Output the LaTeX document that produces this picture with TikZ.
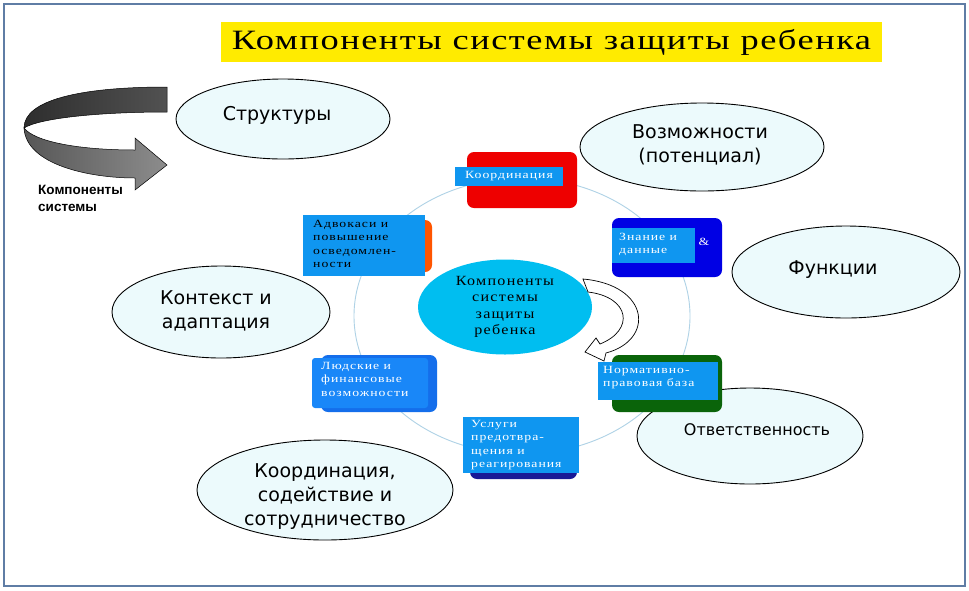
\documentclass[tikz,border=0pt]{standalone}
\usepackage{fontspec}
\usetikzlibrary{shapes.geometric}
\newfontfamily\sansf{DejaVu Sans}
\newfontfamily\lblf{Liberation Sans}
\newfontfamily\boxf[FakeStretch=1.25,LetterSpace=9]{Liberation Serif}
\newfontfamily\centf[FakeStretch=1.15,LetterSpace=9]{Liberation Serif}
\newfontfamily\titlef[FakeStretch=1.3,LetterSpace=5.5]{Liberation Serif}
\definecolor{framec}{RGB}{95,125,165}
\definecolor{ylw}{RGB}{255,235,0}
\definecolor{ring}{RGB}{175,210,230}
\definecolor{ellfill}{RGB}{236,250,252}
\definecolor{lblue}{RGB}{15,150,240}
\definecolor{cent}{RGB}{0,190,240}
\definecolor{redc}{RGB}{238,0,0}
\definecolor{dblue}{RGB}{0,0,228}
\definecolor{dgreen}{RGB}{10,100,10}
\definecolor{orng}{RGB}{255,85,0}
\definecolor{hback}{RGB}{20,110,235}
\definecolor{hfront}{RGB}{25,135,248}
\definecolor{navy}{RGB}{25,25,150}
\tikzset{
  outer/.style={ellipse, draw=black, line width=0.9pt, fill=ellfill, inner sep=0pt},
  otext/.style={inner sep=0pt, align=center, font=\sansf\fontsize{19}{24}\selectfont},
  backbox/.style={rounded corners=7pt, inner sep=0pt},
  lbl/.style={fill=lblue, inner sep=0pt, text=white},
  btext/.style={anchor=north west, inner sep=0pt, align=left, font=\boxf\fontsize{11}{13.5}\selectfont},
}
\begin{document}
\begin{tikzpicture}[x=1pt,y=-1pt]
\useasboundingbox (0,0) rectangle (969,590);
\fill[white] (0,0) rectangle (969,590);
\draw[framec, line width=1.6pt] (4,4) rectangle (965,586);

% title
\node[fill=ylw, minimum width=661pt, minimum height=40pt, inner sep=0pt,
      font=\titlef\fontsize{28}{30}\selectfont] (title) at (551.5,42) {Компоненты системы защиты ребенка};

% big ring
\draw[ring, line width=0.9pt] (522,316) ellipse [x radius=168pt, y radius=138pt];

% outer ellipses
\node[outer, minimum width=214pt, minimum height=80pt] (struct) at (283,119) {};
\node[otext] (structt) at (277,115) {Структуры};
\node[outer, minimum width=244pt, minimum height=88pt] (vozm) at (702,147) {};
\node[otext] (vozmt) at (700,145) {Возможности\\(потенциал)};
\node[outer, minimum width=228pt, minimum height=92pt] (func) at (846,272) {};
\node[otext] (funct) at (833,270) {Функции};
\node[outer, minimum width=226pt, minimum height=96pt] (otv) at (750,436) {};
\node[otext, font=\sansf\fontsize{16}{20}\selectfont] (otvt) at (757,430) {Ответственность};
\node[outer, minimum width=218pt, minimum height=92pt] (kont) at (221,312) {};
\node[otext] (kontt) at (216,311) {Контекст и\\адаптация};
\node[outer, minimum width=256pt, minimum height=100pt] (koord) at (325,490) {};
\node[otext] (koordt) at (325,497) {Координация,\\содействие и\\сотрудничество};

% left 3D arrow
\shade[left color=black!82, right color=black!68, draw=black, line width=0.5pt]
  (167,87) .. controls (80,87) and (24,100) .. (24,128)
  .. controls (40,118) and (100,112) .. (167,112) -- cycle;
\shade[left color=black!66, right color=black!45, draw=black, line width=0.5pt]
  (24,128) .. controls (26,165) and (90,178) .. (135,178) -- (135,190) -- (167,165) -- (135,138) -- (135,150)
  .. controls (80,150) and (35,142) .. (24,128) -- cycle;
\node[anchor=north west, inner sep=0pt, align=left, font=\lblf\bfseries\fontsize{13.5}{17}\selectfont] (komp) at (38,185) {Компоненты\\системы};

% Координация (red)
\node[backbox, fill=redc, minimum width=110pt, minimum height=56pt] (redb) at (522,180) {};
\node[lbl, minimum width=108pt, minimum height=19pt, font=\boxf\fontsize{11}{12}\selectfont] (koordl) at (509,176.5) {Координация};

% Адвокаси (orange + blue)
\node[backbox, fill=orng, minimum width=20pt, minimum height=52pt] (orb) at (422,246) {};
\node[fill=lblue, minimum width=122pt, minimum height=61pt, inner sep=0pt] (advb) at (364,245.5) {};
\node[btext] (advt) at (313,220) {Адвокаси и\\повышение\\осведомлен-\\ности};

% Знание и данные (dark blue)
\node[backbox, fill=dblue, minimum width=110pt, minimum height=59pt] (znb) at (667,247.5) {};
\node[fill=lblue, minimum width=83pt, minimum height=35pt, inner sep=0pt] (znl) at (653.5,245.5) {};
\node[btext, text=white] (znt) at (619,233) {Знание и\\данные};
\node[inner sep=0pt, text=white, font=\boxf\fontsize{11}{12}\selectfont] (amp) at (704,242) {\&};

% Нормативно-правовая база (green)
\node[backbox, fill=dgreen, minimum width=110pt, minimum height=57pt] (grb) at (667,383.5) {};
\node[fill=lblue, minimum width=120pt, minimum height=38pt, inner sep=0pt] (grl) at (658,380.5) {};
\node[btext, text=white] (grt) at (603,366) {Нормативно-\\правовая база};

% Людские и финансовые возможности
\node[backbox, fill=hback, minimum width=116pt, minimum height=57pt] (hb) at (379,383.5) {};
\node[backbox, fill=hfront, rounded corners=3pt, minimum width=116pt, minimum height=50pt] (hf) at (370,383) {};
\node[btext, text=white] (ht) at (321,362) {Людские и\\финансовые\\возможности};

% Услуги (navy + blue)
\node[backbox, fill=navy, minimum width=107pt, minimum height=59pt] (ub) at (523.5,449.5) {};
\node[fill=lblue, minimum width=116pt, minimum height=56pt, inner sep=0pt] (uf) at (521,445) {};
\node[btext, text=white] (ut) at (471,420) {Услуги\\предотвра-\\щения и\\реагирования};

% central ellipse
\node[ellipse, fill=cent, minimum width=174pt, minimum height=95pt, inner sep=0pt, align=center,
      font=\centf\fontsize{14}{16.3}\selectfont] (center) at (505,307) {Компоненты\\системы\\защиты\\ребенка};

% curved arrow
\draw[fill=white, line width=0.7pt]
  (583,279) .. controls (650,285) and (655,340) .. (606,353)
  -- (604,361) -- (585,352) -- (596,338) -- (600,344)
  .. controls (635,330) and (630,297) .. (588,292) -- cycle;
\end{tikzpicture}
\end{document}
